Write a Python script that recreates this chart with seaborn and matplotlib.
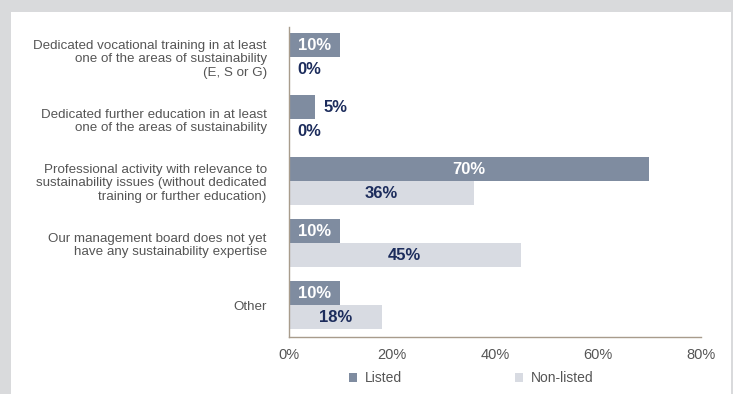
import matplotlib
matplotlib.use("Agg")
import matplotlib.pyplot as plt
from matplotlib.patches import Rectangle, Patch
import seaborn as sns
import pandas as pd

categories = [
    "Dedicated vocational training in at least\none of the areas of sustainability\n(E, S or G)",
    "Dedicated further education in at least\none of the areas of sustainability",
    "Professional activity with relevance to\nsustainability issues (without dedicated\ntraining or further education)",
    "Our management board does not yet\nhave any sustainability expertise",
    "Other",
]
listed = [10, 5, 70, 10, 10]
non_listed = [0, 0, 36, 45, 18]
series_names = ["Listed", "Non-listed"]
x_ticks = [0, 20, 40, 60, 80]

colors = {"Listed": "#7f8ca0", "Non-listed": "#d8dbe2"}
navy = "#1c2c5c"
text_gray = "#555555"
axis_color = "#a89c8c"

df = pd.DataFrame({
    "category": categories * 2,
    "value": listed + non_listed,
    "series": [series_names[0]] * len(categories) + [series_names[1]] * len(categories),
})

sns.set_theme(style="white")
plt.rcParams["font.family"] = ["Liberation Sans", "DejaVu Sans"]

fig = plt.figure(figsize=(7.33, 3.94), dpi=100)
fig.patch.set_facecolor("#d9dadc")
fig.patches.append(Rectangle((11 / 733, 0), 720 / 733, 1 - 12 / 394,
                             transform=fig.transFigure, facecolor="white",
                             edgecolor="none", zorder=-10))

ax = fig.add_axes([289 / 733, 1 - 337 / 394, (700.7 - 289) / 733, (337 - 27) / 394])
ax.set_facecolor("none")
ax.set_zorder(5)

sns.barplot(data=df, y="category", x="value", hue="series", orient="h",
            palette=colors, width=0.774, order=categories,
            hue_order=series_names, ax=ax, legend=False, saturation=1,
            edgecolor="none")

ax.set_xlim(0, 80)
ax.set_ylim(4.516, -0.484)
ax.set_xticks(x_ticks)
ax.set_xticklabels([f"{t}%" for t in x_ticks], fontsize=10.5, color=text_gray)
ax.set_ylabel("")
ax.set_xlabel("")
ax.tick_params(axis="y", length=0, pad=16, labelsize=9.6, labelcolor=text_gray)
ax.tick_params(axis="x", length=4, width=1, color=axis_color, pad=4, direction="out")
for lab in ax.get_yticklabels():
    lab.set_linespacing(1.2)

for side in ["top", "right"]:
    ax.spines[side].set_visible(False)
for side in ["left", "bottom"]:
    ax.spines[side].set_color(axis_color)
    ax.spines[side].set_linewidth(1)

# value labels: inside the bar when it is wide enough, otherwise just past its end
for container, name in zip(ax.containers, series_names):
    for bar, val in zip(container, df.loc[df["series"] == name, "value"]):
        yc = bar.get_y() + bar.get_height() / 2
        label = f"{val:g}%"
        if val >= 8:
            color = "white" if name == "Listed" else navy
            ax.text(val / 2, yc, label, ha="center", va="center",
                    fontsize=12, fontweight="bold", color=color)
        else:
            ax.annotate(label, (val, yc), xytext=(6, 0), textcoords="offset points",
                        ha="left", va="center", fontsize=12, fontweight="bold",
                        color=navy)

handles = [Patch(facecolor=colors[n], edgecolor="none") for n in series_names]
fig.legend(handles, series_names, loc="center", bbox_to_anchor=(471 / 733, 1 - 378.5 / 394),
           ncol=2, frameon=False, fontsize=10, handlelength=0.6, handleheight=0.6,
           handletextpad=0.55, columnspacing=8.1, labelcolor=text_gray)

fig.savefig("out.png", dpi=100)
